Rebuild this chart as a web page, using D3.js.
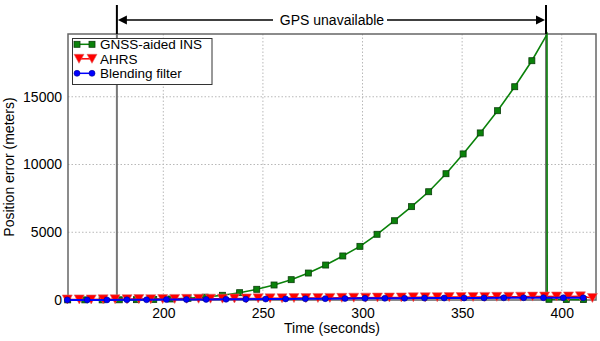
<!DOCTYPE html>
<html><head><meta charset="utf-8">
<script src="https://cdn.jsdelivr.net/npm/d3@7"></script>
<style>body{margin:0;background:#fff}svg{display:block}text{font-family:"Liberation Sans",Arial,sans-serif;font-size:14px;fill:#000}</style>
</head><body><svg id="c" width="600" height="341"></svg>
<script>
// ---- data ----
const xTicks = [200, 250, 300, 350, 400];
const yTicks = [0, 5000, 10000, 15000];
const gpsOutage = [176.7, 392.1];
const seriesNames = ["GNSS-aided INS", "AHRS", "Blending filter"];

const gnssTime = [152.0,160.6,169.3,177.9,186.5,195.2,203.8,212.4,221.0,229.7,238.3,246.9,255.6,264.2,272.8,281.5,290.1,298.7,307.3,316.0,324.6,333.2,341.9,350.5,359.1,367.8,376.4,385.0,392.6,392.7,393.6,402.3,410.9];
const gnssErr  = [10,10,10,15,25,45,75,125,210,347,540,790,1107,1500,1990,2580,3250,3960,4850,5850,6890,7990,9320,10780,12330,13970,15740,17660,19600,60,50,40,30];
const gnssMark = [1,1,1,1,1,1,1,1,1,1,1,1,1,1,1,1,1,1,1,1,1,1,1,1,1,1,1,1,0,0,1,1,1];

const ahrsTime = [151.8,157.8,163.8,169.8,175.8,181.8,187.7,193.7,199.7,205.7,211.7,217.7,223.7,229.7,235.7,241.7,247.6,253.6,259.6,265.6,271.6,277.6,283.6,289.6,295.6,301.6,307.5,313.5,319.5,325.5,331.5,337.5,343.5,349.5,355.5,361.4,367.4,373.4,379.4,385.4,391.4,397.4,403.4,409.4,415.4];
const ahrsErr  = [40,45,40,50,55,60,65,60,70,80,85,90,95,100,110,115,120,125,130,140,145,150,155,160,170,175,180,185,190,200,205,210,215,220,225,230,235,240,245,250,255,260,265,270,150];

const blendTime = [151.8,161.8,171.7,181.7,191.6,201.6,211.6,221.5,231.5,241.4,251.4,261.4,271.3,281.3,291.2,301.2,311.2,321.1,331.1,341.0,351.0,361.0,370.9,380.9,390.8,400.8,410.8];
const blendErr  = [5,5,8,15,20,30,40,45,55,60,70,80,90,100,110,120,125,130,140,145,150,155,160,165,170,165,160];

// ---- layout ----
const svg = d3.select("#c");
const L = 68, R = 596, T = 34, B = 300;
const x = d3.scaleLinear().domain([152.16, 417.2]).range([L, R]);
const y = d3.scaleLinear().domain([0, 19631]).range([B, T]);
const FONT = '"Liberation Sans",Arial,sans-serif';

// grid
const g = svg.append("g");
g.selectAll(".gx").data(xTicks).join("line")
  .attr("x1", d => x(d)).attr("x2", d => x(d)).attr("y1", T).attr("y2", B)
  .attr("stroke", "#b8b8b8").attr("stroke-width", 1).attr("stroke-dasharray", "1.5,2");
g.selectAll(".gy").data(yTicks.filter(d => d > 0)).join("line")
  .attr("x1", L).attr("x2", R).attr("y1", d => y(d)).attr("y2", d => y(d))
  .attr("stroke", "#b8b8b8").attr("stroke-width", 1).attr("stroke-dasharray", "1.5,2");

// axes
const xAxis = d3.axisBottom(x).tickValues(xTicks).tickSize(0).tickPadding(8);
const yAxis = d3.axisLeft(y).tickValues(yTicks).tickSize(0).tickPadding(6).tickFormat(d3.format("d"));
const xa = svg.append("g").attr("transform", `translate(0,${B})`).call(xAxis);
const ya = svg.append("g").attr("transform", `translate(${L},0)`).call(yAxis);
[xa, ya].forEach(a => { a.select(".domain").remove(); a.selectAll("text").style("font-size", "14px").style("font-family", FONT).attr("fill", "#000"); });

// outage lines inside plot
svg.selectAll(".ol").data(gpsOutage).join("line")
  .attr("x1", d => x(d)).attr("x2", d => x(d)).attr("y1", T).attr("y2", B)
  .attr("stroke", "#777").attr("stroke-width", 2);

// frame
svg.append("rect").attr("x", L).attr("y", T).attr("width", R - L).attr("height", B - T)
  .attr("fill", "none").attr("stroke", "#666").attr("stroke-width", 1.5);

// series
const line = d3.line().x(d => x(d[0])).y(d => y(d[1]));
const gnss = gnssTime.map((t, i) => [t, gnssErr[i], gnssMark[i]]);
const ahrs = ahrsTime.map((t, i) => [t, ahrsErr[i]]);
const blend = blendTime.map((t, i) => [t, blendErr[i]]);

const green = "#0a820a", red = "#ff0000", blue = "#0000ff";
svg.append("path").datum(gnss).attr("d", line).attr("fill", "none").attr("stroke", green).attr("stroke-width", 1.6);
svg.selectAll(".gm").data(gnss.filter(d => d[2])).join("rect")
  .attr("x", d => x(d[0]) - 3).attr("y", d => y(d[1]) - 3).attr("width", 6).attr("height", 6)
  .attr("fill", green).attr("stroke", "#0b3d0b").attr("stroke-width", 0.8);

const tri = (cx, cy) => `M${cx - 5},${cy - 4.5}L${cx + 5},${cy - 4.5}L${cx},${cy + 4.5}Z`;
svg.append("path").datum(ahrs).attr("d", line).attr("fill", "none").attr("stroke", red).attr("stroke-width", 1.5);
svg.selectAll(".am").data(ahrs).join("path")
  .attr("d", d => tri(x(d[0]), y(d[1])))
  .attr("fill", red).attr("stroke", "#d66").attr("stroke-width", 0.6);

svg.append("path").datum(blend).attr("d", line).attr("fill", "none").attr("stroke", blue).attr("stroke-width", 2);
svg.selectAll(".bm").data(blend).join("circle")
  .attr("cx", d => x(d[0])).attr("cy", d => y(d[1])).attr("r", 3)
  .attr("fill", blue).attr("stroke", "#00008a").attr("stroke-width", 0.6);

// annotation
svg.selectAll(".al").data(gpsOutage).join("line")
  .attr("x1", d => x(d)).attr("x2", d => x(d)).attr("y1", 5).attr("y2", T)
  .attr("stroke", "#000").attr("stroke-width", 2);
const xs = x(gpsOutage[0]), xe = x(gpsOutage[1]), ay = 20, mid = 332;
svg.append("text").attr("x", mid).attr("y", 25).attr("text-anchor", "middle").text("GPS unavailable");
svg.append("line").attr("x1", xs + 8).attr("x2", 273).attr("y1", ay).attr("y2", ay).attr("stroke", "#000").attr("stroke-width", 1.5);
svg.append("line").attr("x1", 387).attr("x2", xe - 8).attr("y1", ay).attr("y2", ay).attr("stroke", "#000").attr("stroke-width", 1.5);
svg.append("path").attr("d", `M${xs + 1},${ay}L${xs + 10},${ay - 4.5}L${xs + 10},${ay + 4.5}Z`).attr("fill", "#000");
svg.append("path").attr("d", `M${xe - 1},${ay}L${xe - 10},${ay - 4.5}L${xe - 10},${ay + 4.5}Z`).attr("fill", "#000");

// axis titles
svg.append("text").attr("x", 332).attr("y", 333).attr("text-anchor", "middle").text("Time (seconds)");
svg.append("text").attr("transform", "translate(14,167) rotate(-90)").attr("text-anchor", "middle").text("Position error (meters)");

// legend
const lg = svg.append("g");
lg.append("rect").attr("x", 72.5).attr("y", 38.5).attr("width", 139.5).attr("height", 46)
  .attr("fill", "#fff").attr("stroke", "#333").attr("stroke-width", 1);
const rows = [44.3, 58.8, 73.3];
const cols = [green, red, blue];
seriesNames.forEach((n, i) => {
  const ry = rows[i];
  lg.append("line").attr("x1", 77).attr("x2", 92).attr("y1", ry).attr("y2", ry).attr("stroke", cols[i]).attr("stroke-width", 1.5);
  [77, 92].forEach(px => {
    if (i === 0) lg.append("rect").attr("x", px - 3).attr("y", ry - 3).attr("width", 6).attr("height", 6).attr("fill", green).attr("stroke", "#0b3d0b").attr("stroke-width", 0.8);
    if (i === 1) lg.append("path").attr("d", tri(px + (px === 77 ? 2 : 0), ry)).attr("fill", red).attr("stroke", "#d66").attr("stroke-width", 0.6);
    if (i === 2) lg.append("circle").attr("cx", px).attr("cy", ry).attr("r", 3).attr("fill", blue).attr("stroke", "#00008a").attr("stroke-width", 0.6);
  });
  lg.append("text").attr("x", 100).attr("y", ry + 4.8).style("font-size", "13.5px").text(n);
});
</script></body></html>
